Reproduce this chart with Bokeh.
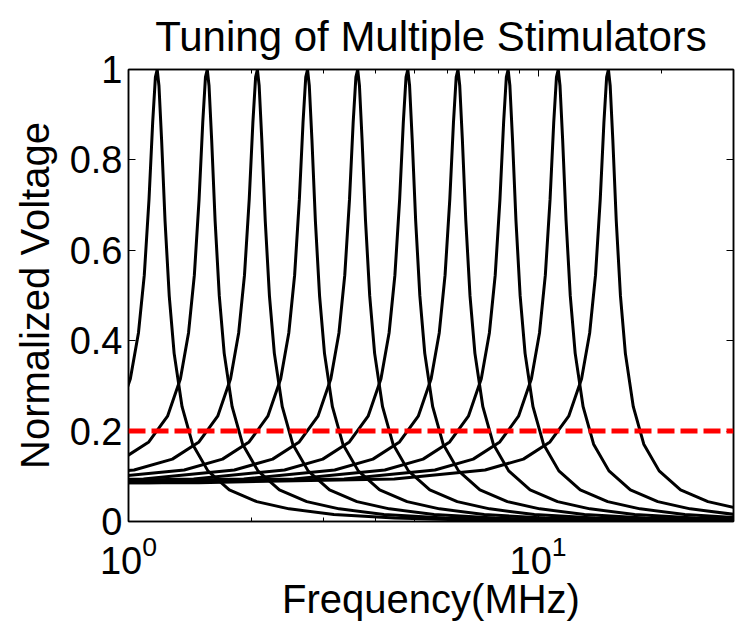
from bokeh.plotting import figure
from bokeh.models import Span, LinearAxis, LogAxis, FixedTicker, Range1d, LogTickFormatter
from bokeh.embed import file_html
from bokeh.resources import INLINE

# ---- data ----
peak_freqs = [1.175, 1.557, 2.064, 2.736, 3.627, 4.808, 6.374, 8.45, 11.2, 14.85]

freq_1 = [0.94, 1.0105, 1.0575, 1.0928, 1.1221, 1.1456, 1.1633, 1.175, 1.1868, 1.2044, 1.2279, 1.2573,
          1.2925, 1.3513, 1.4335, 1.5628, 1.7625, 2.0563, 2.4675, 3.1725, 4.465, 7.05, 14.1, 35.25]
volt_1 = [0.233, 0.316, 0.417, 0.545, 0.712, 0.883, 0.983, 1.0, 0.964, 0.845, 0.666, 0.499,
          0.372, 0.254, 0.171, 0.112, 0.070, 0.044, 0.028, 0.0155, 0.0075, 0.003, 0.0008, 0.0001]

freq_2 = [0.9653, 1.121, 1.2456, 1.339, 1.4013, 1.448, 1.4869, 1.5181, 1.5414, 1.557, 1.5726, 1.5959,
          1.6271, 1.666, 1.7127, 1.7906, 1.8995, 2.0708, 2.3355, 2.7248, 3.2697, 4.2039, 5.9166, 9.342,
          18.684, 46.71]
volt_2 = [0.138, 0.176, 0.233, 0.316, 0.417, 0.545, 0.712, 0.883, 0.983, 1.0, 0.964, 0.845,
          0.666, 0.499, 0.372, 0.254, 0.171, 0.112, 0.070, 0.044, 0.028, 0.0155, 0.0075, 0.003,
          0.0008, 0.0001]

freq_3 = [0.6192, 1.032, 1.2797, 1.4861, 1.6512, 1.775, 1.8576, 1.9195, 1.9711, 2.0124, 2.0434, 2.064,
          2.0846, 2.1156, 2.1569, 2.2085, 2.2704, 2.3736, 2.5181, 2.7451, 3.096, 3.612, 4.3344, 5.5728,
          7.8432, 12.384, 24.768, 61.92]
volt_3 = [0.094, 0.114, 0.138, 0.176, 0.233, 0.316, 0.417, 0.545, 0.712, 0.883, 0.983, 1.0,
          0.964, 0.845, 0.666, 0.499, 0.372, 0.254, 0.171, 0.112, 0.070, 0.044, 0.028, 0.0155,
          0.0075, 0.003, 0.0008, 0.0001]

freq_4 = [0.8208, 1.368, 1.6963, 1.9699, 2.1888, 2.353, 2.4624, 2.5445, 2.6129, 2.6676, 2.7086, 2.736,
          2.7634, 2.8044, 2.8591, 2.9275, 3.0096, 3.1464, 3.3379, 3.6389, 4.104, 4.788, 5.7456, 7.3872,
          10.397, 16.416, 32.832]
volt_4 = [0.094, 0.114, 0.138, 0.176, 0.233, 0.316, 0.417, 0.545, 0.712, 0.883, 0.983, 1.0,
          0.964, 0.845, 0.666, 0.499, 0.372, 0.254, 0.171, 0.112, 0.070, 0.044, 0.028, 0.0155,
          0.0075, 0.003, 0.0008]

freq_5 = [0.3627, 1.0881, 1.8135, 2.2487, 2.6114, 2.9016, 3.1192, 3.2643, 3.3731, 3.4638, 3.5363, 3.5907,
          3.627, 3.6633, 3.7177, 3.7902, 3.8809, 3.9897, 4.1711, 4.4249, 4.8239, 5.4405, 6.3473, 7.6167,
          9.7929, 13.783, 21.762, 43.524]
volt_5 = [0.086, 0.094, 0.114, 0.138, 0.176, 0.233, 0.316, 0.417, 0.545, 0.712, 0.883, 0.983,
          1.0, 0.964, 0.845, 0.666, 0.499, 0.372, 0.254, 0.171, 0.112, 0.070, 0.044, 0.028,
          0.0155, 0.0075, 0.003, 0.0008]

freq_6 = [0.4808, 1.4424, 2.404, 2.981, 3.4618, 3.8464, 4.1349, 4.3272, 4.4714, 4.5916, 4.6878, 4.7599,
          4.808, 4.8561, 4.9282, 5.0244, 5.1446, 5.2888, 5.5292, 5.8658, 6.3946, 7.212, 8.414, 10.097,
          12.982, 18.27, 28.848, 57.696]
volt_6 = [0.086, 0.094, 0.114, 0.138, 0.176, 0.233, 0.316, 0.417, 0.545, 0.712, 0.883, 0.983,
          1.0, 0.964, 0.845, 0.666, 0.499, 0.372, 0.254, 0.171, 0.112, 0.070, 0.044, 0.028,
          0.0155, 0.0075, 0.003, 0.0008]

freq_7 = [0.6374, 1.9122, 3.187, 3.9519, 4.5893, 5.0992, 5.4816, 5.7366, 5.9278, 6.0872, 6.2147, 6.3103,
          6.374, 6.4377, 6.5334, 6.6608, 6.8202, 7.0114, 7.3301, 7.7763, 8.4774, 9.561, 11.155, 13.385,
          17.21, 24.221, 38.244]
volt_7 = [0.086, 0.094, 0.114, 0.138, 0.176, 0.233, 0.316, 0.417, 0.545, 0.712, 0.883, 0.983,
          1.0, 0.964, 0.845, 0.666, 0.499, 0.372, 0.254, 0.171, 0.112, 0.070, 0.044, 0.028,
          0.0155, 0.0075, 0.003]

freq_8 = [0.845, 2.535, 4.225, 5.239, 6.084, 6.76, 7.267, 7.605, 7.8585, 8.0698, 8.2388, 8.3655,
          8.45, 8.5345, 8.6613, 8.8303, 9.0415, 9.295, 9.7175, 10.309, 11.239, 12.675, 14.788, 17.745,
          22.815, 32.11]
volt_8 = [0.086, 0.094, 0.114, 0.138, 0.176, 0.233, 0.316, 0.417, 0.545, 0.712, 0.883, 0.983,
          1.0, 0.964, 0.845, 0.666, 0.499, 0.372, 0.254, 0.171, 0.112, 0.070, 0.044, 0.028,
          0.0155, 0.0075]

freq_9 = [0.56, 1.12, 3.36, 5.6, 6.944, 8.064, 8.96, 9.632, 10.08, 10.416, 10.696, 10.92, 11.088,
          11.2, 11.312, 11.48, 11.704, 11.984, 12.32, 12.88, 13.664, 14.896, 16.8, 19.6, 23.52, 30.24]
volt_9 = [0.0855, 0.086, 0.094, 0.114, 0.138, 0.176, 0.233, 0.316, 0.417, 0.545, 0.712, 0.883, 0.983,
          1.0, 0.964, 0.845, 0.666, 0.499, 0.372, 0.254, 0.171, 0.112, 0.070, 0.044, 0.028, 0.0155]

freq_10 = [0.7425, 1.485, 4.455, 7.425, 9.207, 10.692, 11.88, 12.771, 13.365, 13.8105, 14.182, 14.479,
           14.702, 14.85, 14.999, 15.221, 15.518, 15.89, 16.335, 17.078, 18.117, 19.751, 22.275, 25.988,
           31.185]
volt_10 = [0.0855, 0.086, 0.094, 0.114, 0.138, 0.176, 0.233, 0.316, 0.417, 0.545, 0.712, 0.883,
           0.983, 1.0, 0.964, 0.845, 0.666, 0.499, 0.372, 0.254, 0.171, 0.112, 0.070, 0.044, 0.028]

threshold = 0.2

x_major_ticks = [1, 10]
x_minor_ticks = [2, 3, 4, 5, 6, 7, 8, 9, 20, 30]
y_ticks = [0, 0.2, 0.4, 0.6, 0.8, 1]
y_tick_labels = ["0", "0.2", "0.4", "0.6", "0.8", "1"]

title_text = "Tuning of Multiple Stimulators"
x_label = "Frequency(MHz)"
y_label = "Normalized Voltage"

FONT = "Liberation Sans"

p = figure(width=736, height=623, x_axis_type="log",
           x_range=Range1d(1, 30), y_range=Range1d(0, 1),
           output_backend="svg", toolbar_location=None,
           title=title_text,
           min_border_left=128, min_border_right=3, min_border_top=0, min_border_bottom=101)

p.title.text_font = FONT
p.title.text_font_size = "42px"
p.title.text_font_style = "normal"
p.title.align = "center"
p.title.text_color = "black"
p.title.standoff = 20

p.background_fill_color = "white"
p.border_fill_color = "white"
p.outline_line_color = "black"
p.outline_line_width = 1.5
p.xgrid.visible = False
p.ygrid.visible = False

curves = [(freq_1, volt_1), (freq_2, volt_2), (freq_3, volt_3), (freq_4, volt_4), (freq_5, volt_5),
          (freq_6, volt_6), (freq_7, volt_7), (freq_8, volt_8), (freq_9, volt_9), (freq_10, volt_10)]
for fx, vy in curves:
    p.line(fx, vy, line_color="black", line_width=3)

p.add_layout(Span(location=threshold, dimension="width", line_color="#ff0000",
                  line_width=5, line_dash="17 6"))

# bottom (log) axis
xa = p.xaxis[0]
xa.ticker = FixedTicker(ticks=x_major_ticks, minor_ticks=x_minor_ticks)
xa.formatter = LogTickFormatter()
xa.axis_label = x_label
xa.axis_label_text_font = FONT
xa.axis_label_text_font_size = "40px"
xa.axis_label_text_font_style = "normal"
xa.axis_label_text_color = "black"
xa.axis_label_standoff = 0
xa.major_label_text_font = FONT
xa.major_label_text_font_size = "38px"
xa.major_label_text_color = "black"
xa.major_label_standoff = 13
xa.major_tick_in = 7
xa.major_tick_out = 0
xa.minor_tick_in = 4
xa.minor_tick_out = 0
xa.major_tick_line_color = "black"
xa.minor_tick_line_color = "black"
xa.axis_line_color = "black"
xa.axis_line_width = 1.5

# left axis
ya = p.yaxis[0]
ya.ticker = FixedTicker(ticks=y_ticks)
ya.major_label_overrides = dict(zip(y_ticks, y_tick_labels))
ya.axis_label = y_label
ya.axis_label_text_font = FONT
ya.axis_label_text_font_size = "40px"
ya.axis_label_text_font_style = "normal"
ya.axis_label_text_color = "black"
ya.axis_label_standoff = 10
ya.major_label_text_font = FONT
ya.major_label_text_font_size = "38px"
ya.major_label_text_color = "black"
ya.major_label_standoff = 6
ya.major_tick_in = 7
ya.major_tick_out = 0
ya.major_tick_line_color = "black"
ya.minor_tick_line_color = None
ya.axis_line_color = "black"
ya.axis_line_width = 1.5

# mirrored tick marks on the right and top
ra = LinearAxis(ticker=FixedTicker(ticks=y_ticks),
                major_label_overrides={t: "" for t in y_ticks},
                major_label_text_font_size="0px", major_label_standoff=0,
                major_tick_in=7, major_tick_out=0, minor_tick_line_color=None,
                major_tick_line_color="black",
                axis_line_color="black", axis_line_width=1.5)
p.add_layout(ra, "right")

ta = LogAxis(ticker=FixedTicker(ticks=x_major_ticks, minor_ticks=x_minor_ticks),
             major_label_overrides={t: "" for t in x_major_ticks},
             major_label_text_font_size="0px", major_label_standoff=0,
             major_tick_in=7, major_tick_out=0, minor_tick_in=4, minor_tick_out=0,
             major_tick_line_color="black", minor_tick_line_color="black",
             axis_line_color="black", axis_line_width=1.5)
p.add_layout(ta, "above")

open("out.html", "w").write(file_html(p, INLINE))
